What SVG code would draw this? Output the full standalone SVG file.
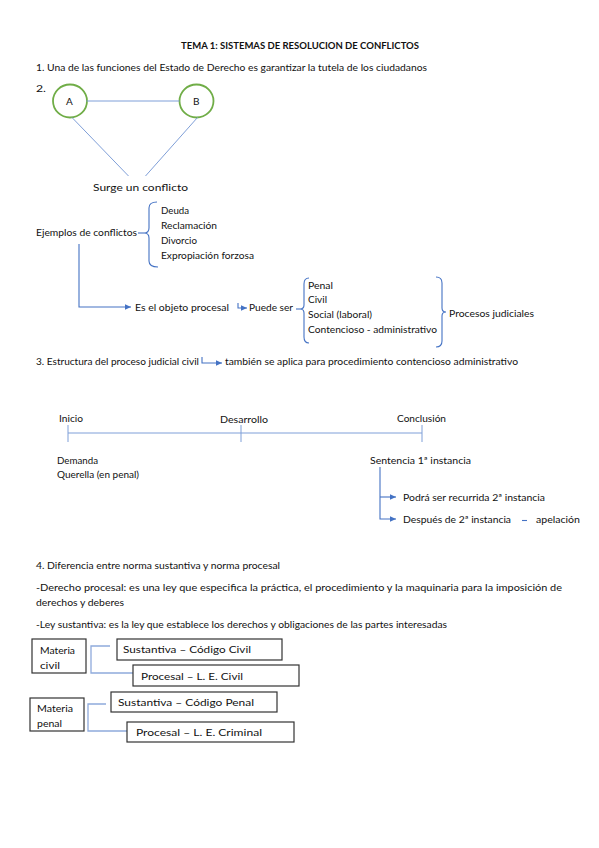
<svg xmlns="http://www.w3.org/2000/svg" width="599" height="848" viewBox="0 0 599 848">
<defs>
<style>
.t{font-family:Lato,"Liberation Sans",sans-serif;font-size:10px;fill:#111;}
.b{font-weight:bold;}
.ln{stroke:#7F9FD8;stroke-width:1;fill:none;}
.ar{stroke:#4472C4;stroke-width:1.1;fill:none;}
.br{stroke:#4472C4;stroke-width:1.1;fill:none;}
.bx{fill:#fff;stroke:#333;stroke-width:1.2;}
.cr{fill:none;stroke:#70AD47;stroke-width:1.8;}
.cn{stroke:#8FAADC;stroke-width:1.3;fill:none;}
</style>
<marker id="ah" viewBox="0 0 10 10" refX="10" refY="5" markerWidth="6" markerHeight="6" markerUnits="userSpaceOnUse" orient="auto">
<path d="M0,0.5 L10,5 L0,9.5 z" fill="#4472C4"/>
</marker>
</defs>
<rect width="599" height="848" fill="#fff"/>

<g id="texts">
<text class="t b" x="181" y="48.5" textLength="238" lengthAdjust="spacingAndGlyphs">TEMA 1: SISTEMAS DE RESOLUCION DE CONFLICTOS</text>
<text class="t" x="36" y="70.5" textLength="391" lengthAdjust="spacingAndGlyphs">1. Una de las funciones del Estado de Derecho es garantizar la tutela de los ciudadanos</text>
<text class="t" x="36" y="91.5" textLength="10" lengthAdjust="spacingAndGlyphs">2.</text>
<text class="t" x="93" y="190.5" textLength="95" lengthAdjust="spacingAndGlyphs">Surge un conflicto</text>
</g>

<g id="node-A">
<ellipse class="cr" cx="70" cy="101" rx="17" ry="16.5"/>
<text class="t" x="66" y="104.5">A</text>
</g>
<g id="node-B">
<ellipse class="cr" cx="196.5" cy="101" rx="17" ry="16.5"/>
<text class="t" x="193" y="104.5">B</text>
</g>

<g id="ejemplos">
<text class="t" x="36" y="235.5" textLength="101" lengthAdjust="spacingAndGlyphs">Ejemplos de conflictos</text>
<text class="t" x="161" y="213.5" textLength="28" lengthAdjust="spacingAndGlyphs">Deuda</text>
<text class="t" x="161" y="228.5" textLength="56" lengthAdjust="spacingAndGlyphs">Reclamación</text>
<text class="t" x="161" y="243.5" textLength="36" lengthAdjust="spacingAndGlyphs">Divorcio</text>
<text class="t" x="161" y="258.5" textLength="93" lengthAdjust="spacingAndGlyphs">Expropiación forzosa</text>
</g>

<g id="objeto">
<text class="t" x="135" y="310.5" textLength="94" lengthAdjust="spacingAndGlyphs">Es el objeto procesal</text>
<text class="t" x="249" y="310.5" textLength="44" lengthAdjust="spacingAndGlyphs">Puede ser</text>
</g>

<g id="tipos">
<text class="t" x="308" y="288.5" textLength="25" lengthAdjust="spacingAndGlyphs">Penal</text>
<text class="t" x="308" y="302.5" textLength="19" lengthAdjust="spacingAndGlyphs">Civil</text>
<text class="t" x="308" y="317.5" textLength="64" lengthAdjust="spacingAndGlyphs">Social (laboral)</text>
<text class="t" x="308" y="332.5" textLength="129" lengthAdjust="spacingAndGlyphs">Contencioso - administrativo</text>
<text class="t" x="449" y="317" textLength="85" lengthAdjust="spacingAndGlyphs">Procesos judiciales</text>
</g>

<g id="seccion3">
<text class="t" x="36" y="364.5" textLength="163" lengthAdjust="spacingAndGlyphs">3. Estructura del proceso judicial civil</text>
<text class="t" x="225" y="364.5" textLength="293" lengthAdjust="spacingAndGlyphs">también se aplica para procedimiento contencioso administrativo</text>
</g>

<g id="timeline">
<line class="ln" x1="68" y1="433" x2="422" y2="433"/>
<line class="ln" x1="68" y1="425" x2="68" y2="442"/>
<line class="ln" x1="241" y1="425" x2="241" y2="442"/>
<line class="ln" x1="422" y1="425" x2="422" y2="442"/>
<text class="t" x="59" y="421.5" textLength="24" lengthAdjust="spacingAndGlyphs">Inicio</text>
<text class="t" x="220" y="422.5" textLength="48" lengthAdjust="spacingAndGlyphs">Desarrollo</text>
<text class="t" x="397" y="421.5" textLength="49" lengthAdjust="spacingAndGlyphs">Conclusión</text>
<text class="t" x="57" y="463.5" textLength="41" lengthAdjust="spacingAndGlyphs">Demanda</text>
<text class="t" x="57" y="477.5" textLength="82" lengthAdjust="spacingAndGlyphs">Querella (en penal)</text>
<text class="t" x="370" y="463.5" textLength="101" lengthAdjust="spacingAndGlyphs">Sentencia 1ª instancia</text>
<text class="t" x="403" y="500.5" textLength="142" lengthAdjust="spacingAndGlyphs">Podrá ser recurrida 2ª instancia</text>
<text class="t" x="403" y="523" textLength="108" lengthAdjust="spacingAndGlyphs">Después de 2ª instancia</text>
<text class="t" x="536" y="523" textLength="44" lengthAdjust="spacingAndGlyphs">apelación</text>
</g>

<g id="seccion4">
<text class="t" x="36" y="568.5" textLength="244" lengthAdjust="spacingAndGlyphs">4. Diferencia entre norma sustantiva y norma procesal</text>
<text class="t" x="36" y="590.5" textLength="526" lengthAdjust="spacingAndGlyphs">-Derecho procesal: es una ley que especifica la práctica, el procedimiento y la maquinaria para la imposición de</text>
<text class="t" x="36" y="605.5" textLength="88" lengthAdjust="spacingAndGlyphs">derechos y deberes</text>
<text class="t" x="36" y="627.5" textLength="411" lengthAdjust="spacingAndGlyphs">-Ley sustantiva: es la ley que establece los derechos y obligaciones de las partes interesadas</text>
</g>

<g id="connectors">
<line class="ln" x1="86.5" y1="101" x2="179.5" y2="101"/>
<line class="ln" x1="72" y1="117.5" x2="128.5" y2="176"/>
<line class="ln" x1="197.5" y1="117.5" x2="145.5" y2="176"/>
<path class="br" d="M157,202 Q149,202 149,208 L149,228 Q149,233 144,233 Q149,233 149,238 L149,261 Q149,267 158,267"/>
<line class="br" x1="138" y1="233" x2="144" y2="233"/>
<path class="ar" d="M79,244 L79,307 L131,307" marker-end="url(#ah)"/>
<path class="ar" d="M238,303 L238,308 L247,308" marker-end="url(#ah)"/>
<line class="br" x1="296" y1="309" x2="300" y2="309"/>
<path class="br" d="M309,278 Q304,278 304,284 L304,305 Q304,309 300,309 Q304,309 304,313 L304,337 Q304,343 309,343"/>
<path class="br" d="M436,277 Q442,277 442,283 L442,308 Q442,312 446,312 Q442,312 442,316 L442,341 Q442,347 436,347"/>
<path class="ar" d="M202,357 L202,363 L222,363" marker-end="url(#ah)"/>
<path class="ar" d="M380,467 L380,519 L396,519" marker-end="url(#ah)"/>
<path class="ar" d="M380,497 L396,497" marker-end="url(#ah)"/>
<line class="ar" x1="522" y1="520.5" x2="527" y2="520.5"/>
<path class="cn" d="M110,646 L91,646 L91,673 L133,673"/>
<path class="cn" d="M106,704 L88,704 L88,731 L127,731"/>
</g>

<g id="box-materia-civil">
<rect class="bx" x="32" y="639" width="54" height="34"/>
<text class="t" x="40" y="654" textLength="35" lengthAdjust="spacingAndGlyphs">Materia</text>
<text class="t" x="40" y="669" textLength="20" lengthAdjust="spacingAndGlyphs">civil</text>
</g>
<g id="box-sustantiva-civil">
<rect class="bx" x="117" y="639" width="165" height="21"/>
<text class="t" x="123" y="653" textLength="128" lengthAdjust="spacingAndGlyphs">Sustantiva – Código Civil</text>
</g>
<g id="box-procesal-civil">
<rect class="bx" x="133" y="665" width="166" height="21"/>
<text class="t" x="141" y="680" textLength="102" lengthAdjust="spacingAndGlyphs">Procesal – L. E. Civil</text>
</g>
<g id="box-materia-penal">
<rect class="bx" x="30" y="698" width="54" height="33"/>
<text class="t" x="37" y="712" textLength="36" lengthAdjust="spacingAndGlyphs">Materia</text>
<text class="t" x="37" y="727" textLength="25" lengthAdjust="spacingAndGlyphs">penal</text>
</g>
<g id="box-sustantiva-penal">
<rect class="bx" x="111" y="692" width="166" height="20"/>
<text class="t" x="118" y="706" textLength="136" lengthAdjust="spacingAndGlyphs">Sustantiva – Código Penal</text>
</g>
<g id="box-procesal-penal">
<rect class="bx" x="127" y="722" width="167" height="20"/>
<text class="t" x="136" y="736" textLength="126" lengthAdjust="spacingAndGlyphs">Procesal – L. E. Criminal</text>
</g>
</svg>
